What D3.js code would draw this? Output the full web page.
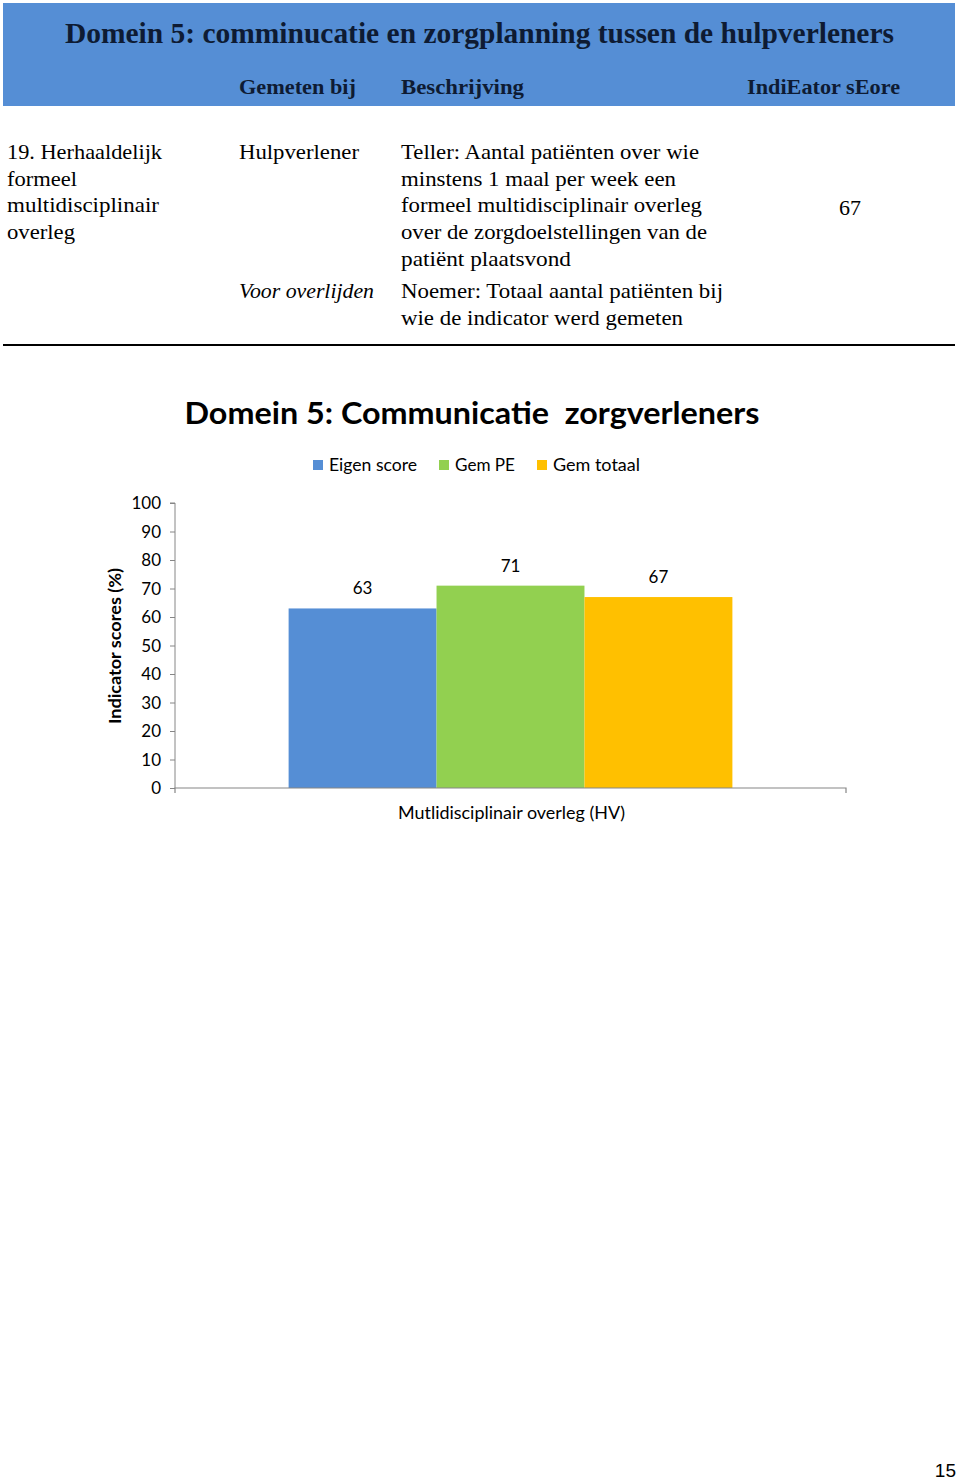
<!DOCTYPE html>
<html><head><meta charset="utf-8">
<script src="https://cdn.jsdelivr.net/npm/d3@7"></script>
<style>body{margin:0;background:#fff}svg{display:block}</style>
</head><body>
<script>
// ---- data ----
const pageTitle = "Domein 5: comminucatie en zorgplanning tussen de hulpverleners";
const columnHeaders = ["Gemeten bij", "Beschrijving", "IndiEator sEore"];
const indicatorLines = ["19. Herhaaldelijk", "formeel", "multidisciplinair", "overleg"];
const measuredAt = ["Hulpverlener", "Voor overlijden"];
const tellerLines = ["Teller: Aantal patiënten over wie", "minstens 1 maal per week een", "formeel multidisciplinair overleg", "over de zorgdoelstellingen van de", "patiënt plaatsvond"];
const noemerLines = ["Noemer: Totaal aantal patiënten bij", "wie de indicator werd gemeten"];
const indicatorScore = "67";
const chartTitle = "Domein 5: Communicatie  zorgverleners";
const categories = ["Mutlidisciplinair overleg (HV)"];
const seriesNames = ["Eigen score", "Gem PE", "Gem totaal"];
const seriesValues = [63, 71, 67];
const seriesColors = ["#558ED5", "#92D050", "#FFC000"];
const yTicks = [0, 10, 20, 30, 40, 50, 60, 70, 80, 90, 100];
const yLabel = "Indicator scores (%)";
const pageNumber = "15";

const W = 960, H = 1480;
const svg = d3.select("body").append("svg").attr("width", W).attr("height", H);

function txt(x, y, s, o) {
  const t = svg.append("text").attr("x", x).attr("y", y).text(s)
    .attr("font-family", o.family).attr("font-size", o.size)
    .attr("fill", o.fill || "#000").style("white-space", "pre");
  if (o.weight) t.attr("font-weight", o.weight);
  if (o.style) t.attr("font-style", o.style);
  if (o.anchor) t.attr("text-anchor", o.anchor);
  if (o.len) t.attr("textLength", o.len).attr("lengthAdjust", "spacingAndGlyphs");
  return t;
}
const serif = "'Liberation Serif', 'DejaVu Serif', serif";
const sans = "Lato, 'Open Sans', 'Liberation Sans', sans-serif";

// ---- header band ----
svg.append("rect").attr("x", 3).attr("y", 3).attr("width", 952).attr("height", 103).attr("fill", "#558ED5");
txt(65, 43, pageTitle, {family: serif, size: 30, weight: "bold", fill: "#0E1B33", len: 829});
const hdrX = [239, 401, 747], hdrLen = [117, 123, 153];
columnHeaders.forEach((h, i) => txt(hdrX[i], 94, h, {family: serif, size: 21, weight: "bold", fill: "#0E1B33", len: hdrLen[i]}));

// ---- table body ----
const lineH = 26.7, y0 = 159;
const indLen = [155, 70, 152, 68];
indicatorLines.forEach((s, i) => txt(7, y0 + i * lineH, s, {family: serif, size: 21, len: indLen[i]}));
txt(239, y0, measuredAt[0], {family: serif, size: 21, len: 120});
txt(239, 298, measuredAt[1], {family: serif, size: 21, style: "italic", len: 135});
const telLen = [298, 275, 301, 306, 170];
tellerLines.forEach((s, i) => txt(401, y0 + i * lineH, s, {family: serif, size: 21, len: telLen[i]}));
const noeLen = [322, 282];
noemerLines.forEach((s, i) => txt(401, 298 + i * lineH, s, {family: serif, size: 21, len: noeLen[i]}));
txt(839, 215, indicatorScore, {family: serif, size: 21, len: 22});
svg.append("rect").attr("x", 3).attr("y", 344).attr("width", 952).attr("height", 2).attr("fill", "#000");

// ---- chart ----
txt(472, 424, chartTitle, {family: sans, size: 31, weight: "bold", anchor: "middle", len: 575});

// legend
const legX = [313, 439, 537], legLen = [88, 60, 87];
seriesNames.forEach((n, i) => {
  svg.append("rect").attr("x", legX[i]).attr("y", 460).attr("width", 10).attr("height", 10).attr("fill", seriesColors[i]);
  txt(legX[i] + 16, 471, n, {family: sans, size: 17, len: legLen[i]});
});

const plot = {left: 175, right: 846, top: 503, bottom: 788};
const y = d3.scaleLinear().domain([0, 100]).range([plot.bottom, plot.top]);
const x0 = d3.scaleBand().domain(categories).range([plot.left, plot.right]).paddingInner(0).paddingOuter(0.256);
const x1 = d3.scaleBand().domain(seriesNames).range([0, x0.bandwidth()]).padding(0);

const g = svg.append("g");
// y axis
const yAxis = d3.axisLeft(y).tickValues(yTicks).tickSize(5).tickPadding(9);
const ya = g.append("g").attr("transform", `translate(${plot.left},0)`).call(yAxis);
ya.select(".domain").attr("stroke", "#868686").attr("d", `M-5,${plot.top}H0V${plot.bottom}`);
ya.selectAll(".tick line").attr("stroke", "#868686");
ya.selectAll(".tick text").attr("font-family", sans).attr("font-size", 17).attr("fill", "#000").attr("dy", "0.34em");

// bars
g.selectAll("rect.bar").data(seriesValues).join("rect").attr("class", "bar")
  .attr("x", (d, i) => x0(categories[0]) + x1(seriesNames[i]))
  .attr("width", x1.bandwidth())
  .attr("y", d => y(d)).attr("height", d => y(0) - y(d))
  .attr("fill", (d, i) => seriesColors[i]);

// value labels
seriesValues.forEach((d, i) => {
  txt(x0(categories[0]) + x1(seriesNames[i]) + x1.bandwidth() / 2, y(d) - 14, String(d), {family: sans, size: 17, anchor: "middle"});
});

// x axis
const xa = g.append("g").attr("transform", `translate(0,${plot.bottom})`);
xa.append("path").attr("d", `M${plot.left},5V0H${plot.right}V5`).attr("fill", "none").attr("stroke", "#868686").attr("stroke-width", 1.2);
txt(x0(categories[0]) + x0.bandwidth() / 2 + 1, 819, categories[0], {family: sans, size: 17, anchor: "middle", len: 227});

// y label
svg.append("text").attr("transform", `translate(121,646) rotate(-90)`).attr("text-anchor", "middle")
  .attr("font-family", sans).attr("font-size", 17).attr("font-weight", "bold")
  .attr("textLength", 156).attr("lengthAdjust", "spacingAndGlyphs").text(yLabel);

// page number
txt(956, 1477, pageNumber, {family: "'Liberation Sans', Arial, sans-serif", size: 19, anchor: "end"});
</script>
</body></html>
